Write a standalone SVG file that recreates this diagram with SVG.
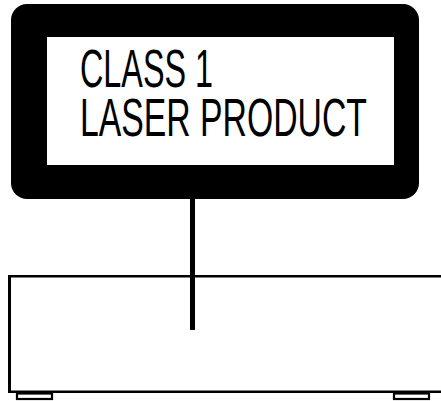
<svg xmlns="http://www.w3.org/2000/svg" width="441" height="401" viewBox="0 0 441 401">
<style>
.txt{font-family:"Liberation Sans",Arial,sans-serif;font-size:54px;fill:#000}
.ln{stroke:#000;fill:none}
.foot{stroke:#000;stroke-width:2.2;fill:#fff}
</style>
<rect width="441" height="401" fill="#fff"/>
<g id="label">
<rect x="11" y="4" width="408" height="195" rx="16" fill="#000"/>
<rect x="47" y="37" width="347" height="128" fill="#fff"/>
<text class="txt" x="80" y="87" textLength="133" lengthAdjust="spacingAndGlyphs">CLASS 1</text>
<text class="txt" x="80" y="136" textLength="287" lengthAdjust="spacingAndGlyphs">LASER PRODUCT</text>
</g>
<g id="device">
<path class="ln" stroke-width="3" d="M9.5 276 V392"/>
<path class="ln" stroke-width="2.5" d="M8 276.3 H441 M8 391.7 H441"/>
<rect class="foot" x="17" y="393.5" width="35" height="5.5"/>
<rect class="foot" x="394" y="393.5" width="35" height="5.5"/>
</g>
<g id="connectors">
<rect x="190" y="199" width="5" height="131" fill="#000"/>
</g>
</svg>
